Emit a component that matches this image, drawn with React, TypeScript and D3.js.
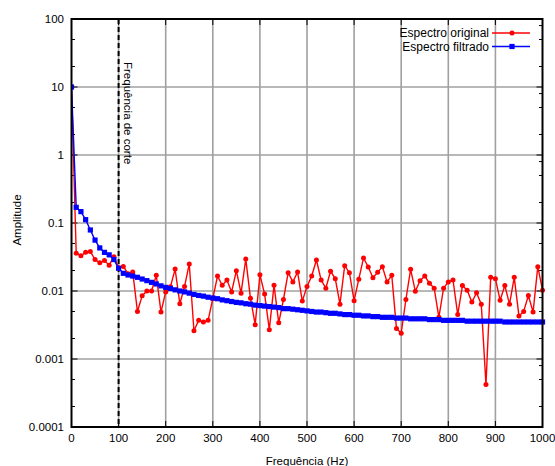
import React from "react";
import * as d3 from "d3";

const freqs: number[] = Array.from({ length: 101 }, (_, i) => i * 10);

const original: number[] = [
  10, 0.036, 0.033, 0.037, 0.038, 0.029, 0.026, 0.028, 0.024, 0.032,
  0.022, 0.023, 0.018, 0.019, 0.005, 0.0085, 0.010, 0.010, 0.017, 0.0049,
  0.0097, 0.0115, 0.021, 0.0065, 0.0116, 0.025, 0.0026, 0.0037, 0.0035, 0.0037,
  0.0077, 0.0166, 0.0121, 0.0145, 0.0097, 0.0199, 0.0093, 0.0295, 0.0078, 0.0032,
  0.0174, 0.009, 0.0027, 0.0122, 0.0034, 0.0075, 0.0186, 0.0136, 0.019, 0.0071,
  0.0116, 0.0166, 0.0286, 0.0145, 0.011, 0.0195, 0.0152, 0.0064, 0.0236, 0.0186,
  0.0072, 0.0149, 0.0306, 0.0225, 0.0157, 0.0188, 0.0228, 0.0136, 0.017, 0.0028,
  0.0024, 0.0075, 0.0208, 0.0099, 0.0142, 0.0166, 0.013, 0.011, 0.0041, 0.011,
  0.0136, 0.0145, 0.0045, 0.012, 0.0103, 0.0069, 0.0094, 0.0064, 0.00042, 0.0159,
  0.0152, 0.0073, 0.012, 0.0064, 0.0159, 0.0043, 0.005, 0.0086, 0.0049, 0.0228,
  0.0103,
];

const filtered: number[] = [
  10, 0.17, 0.147, 0.112, 0.079, 0.056, 0.043, 0.037, 0.034, 0.029,
  0.0216, 0.0182, 0.0172, 0.0166, 0.0159, 0.015, 0.0142, 0.0134, 0.0127, 0.0119,
  0.0113, 0.0109, 0.0104, 0.01, 0.0097, 0.0093, 0.0089, 0.0086, 0.0084, 0.0081,
  0.0079, 0.0077, 0.0074, 0.0072, 0.007, 0.0068, 0.0067, 0.0065, 0.0064, 0.0062,
  0.0061, 0.006, 0.0059, 0.0058, 0.0057, 0.0055, 0.0055, 0.0054, 0.0053, 0.0052,
  0.0051, 0.005, 0.0049, 0.0049, 0.0048, 0.0047, 0.0047, 0.0046, 0.0045, 0.0045,
  0.0044, 0.0044, 0.0043, 0.0043, 0.0042, 0.0042, 0.0041, 0.0041, 0.0041, 0.004,
  0.004, 0.004, 0.0039, 0.0039, 0.0039, 0.0039, 0.0038, 0.0038, 0.0038, 0.0037,
  0.0037, 0.0037, 0.0037, 0.0037, 0.0036, 0.0036, 0.0036, 0.0036, 0.0036, 0.0036,
  0.0036, 0.0036, 0.0035, 0.0035, 0.0035, 0.0035, 0.0035, 0.0035, 0.0035, 0.0035,
  0.0035,
];

const xTicks: number[] = [0, 100, 200, 300, 400, 500, 600, 700, 800, 900, 1000];
const yTicks: number[] = [0.0001, 0.001, 0.01, 0.1, 1, 10, 100];
const yTickLabels: string[] = ["0.0001", "0.001", "0.01", "0.1", "1", "10", "100"];
const cutoff = 100;

const W = 555;
const H = 466;
const L = 71.5;
const R = 542.5;
const T = 19;
const B = 427;
const FONT = "'Liberation Sans', Arial, Helvetica, sans-serif";

export default function App() {
  const x = d3.scaleLinear().domain([0, 1000]).range([L, R]);
  const y = d3.scaleLog().domain([1e-4, 100]).range([B, T]);

  const line = d3
    .line<number>()
    .x((_, i) => x(freqs[i]))
    .y((d) => y(d));

  const minorLeft: number[] = [];
  const minorRight: number[] = [];
  for (let e = -4; e < 2; e++) {
    const base = Math.pow(10, e);
    minorLeft.push(2 * base, 5 * base);
    minorRight.push(2 * base, 5 * base, 8 * base);
  }

  const gridColor = "#a0a0a0";

  return (
    <svg
      width={W}
      height={H}
      style={{ position: "absolute", left: 0, top: 0, background: "#fff" }}
      fontFamily={FONT}
    >
      <rect x={0} y={0} width={W} height={H} fill="#fff" />
      <defs>
        <clipPath id="plot">
          <rect x={L} y={T - 5} width={R - L + 5} height={B - T + 10} />
        </clipPath>
      </defs>

      {/* grid */}
      {xTicks.slice(1, -1).map((t) => (
        <line key={"gx" + t} x1={x(t)} x2={x(t)} y1={T} y2={B} stroke={gridColor} strokeWidth={1.6} />
      ))}
      {yTicks.slice(1, -1).map((t) => (
        <line key={"gy" + t} x1={L} x2={R} y1={y(t)} y2={y(t)} stroke={gridColor} strokeWidth={1.6} />
      ))}

      {/* ticks */}
      {xTicks.map((t) => (
        <g key={"tx" + t}>
          <line x1={x(t)} x2={x(t)} y1={B} y2={B - 6} stroke="#000" strokeWidth={1} />
          <line x1={x(t)} x2={x(t)} y1={T} y2={T + 6} stroke="#000" strokeWidth={1} />
        </g>
      ))}
      {yTicks.map((t) => (
        <g key={"ty" + t}>
          <line x1={L} x2={L + 6} y1={y(t)} y2={y(t)} stroke="#000" strokeWidth={1} />
          <line x1={R} x2={R - 6} y1={y(t)} y2={y(t)} stroke="#000" strokeWidth={1} />
        </g>
      ))}
      {minorLeft.map((t) => (
        <line key={"ml" + t} x1={L} x2={L + 3.5} y1={y(t)} y2={y(t)} stroke="#000" strokeWidth={1} />
      ))}
      {minorRight.map((t) => (
        <line key={"mr" + t} x1={R} x2={R - 3.5} y1={y(t)} y2={y(t)} stroke="#000" strokeWidth={1} />
      ))}

      {/* cutoff line */}
      <line
        x1={x(cutoff)}
        x2={x(cutoff)}
        y1={T}
        y2={B}
        stroke="#000"
        strokeWidth={2}
        strokeDasharray="5,3"
      />
      <text
        transform={`translate(${x(cutoff) + 9},${62}) rotate(90)`}
        fontSize={11.5}
        dominantBaseline="central"
        textAnchor="start"
        fill="#000"
      >
        Frequência de corte
      </text>

      {/* data */}
      <g clipPath="url(#plot)">
        <path d={line(original) || ""} fill="none" stroke="#ff0000" strokeWidth={1.4} />
        {original.map((v, i) => (
          <circle key={"o" + i} cx={x(freqs[i])} cy={y(v)} r={2.5} fill="#ff0000" />
        ))}
        <path d={line(filtered) || ""} fill="none" stroke="#0000ff" strokeWidth={1.4} />
        {filtered.map((v, i) => (
          <rect key={"f" + i} x={x(freqs[i]) - 2.6} y={y(v) - 2.6} width={5.2} height={5.2} fill="#0000ff" />
        ))}
      </g>

      {/* frame */}
      <rect x={L} y={T} width={R - L} height={B - T} fill="none" stroke="#000" strokeWidth={2} />

      {/* tick labels */}
      {xTicks.map((t) => (
        <text key={"lx" + t} x={x(t)} y={442} fontSize={11.5} textAnchor="middle" fill="#000">
          {t}
        </text>
      ))}
      {yTicks.map((t, i) => (
        <text key={"ly" + t} x={64} y={y(t)} fontSize={11.5} textAnchor="end" dominantBaseline="central" fill="#000">
          {yTickLabels[i]}
        </text>
      ))}

      {/* axis titles */}
      <text x={(L + R) / 2} y={465} fontSize={11.5} textAnchor="middle" fill="#000">
        Frequência (Hz)
      </text>
      <text transform={`translate(21,220) rotate(-90)`} fontSize={11.5} textAnchor="middle" fill="#000">
        Amplitude
      </text>

      {/* legend */}
      <text x={489} y={33} fontSize={12} textAnchor="end" dominantBaseline="central" fill="#000">
        Espectro original
      </text>
      <line x1={492} x2={530} y1={33} y2={33} stroke="#ff0000" strokeWidth={1.4} />
      <circle cx={512} cy={33} r={2.5} fill="#ff0000" />
      <text x={489} y={46.5} fontSize={12} textAnchor="end" dominantBaseline="central" fill="#000">
        Espectro filtrado
      </text>
      <line x1={492} x2={530} y1={46.5} y2={46.5} stroke="#0000ff" strokeWidth={1.4} />
      <rect x={512 - 2.6} y={46.5 - 2.6} width={5.2} height={5.2} fill="#0000ff" />
    </svg>
  );
}
